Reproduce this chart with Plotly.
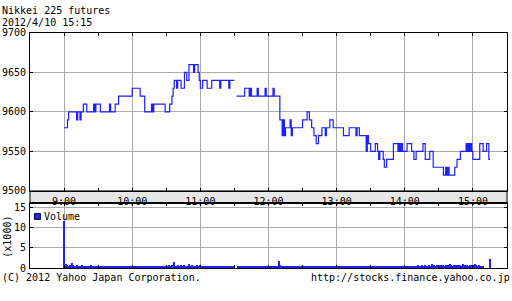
import plotly.graph_objects as go
import pandas as pd

TITLE = "Nikkei 225 futures"
STAMP = "2012/4/10 15:15"
SESSION_START = "2012-04-10 09:00"
PREV_CLOSE = 9550
COPYRIGHT = "(C) 2012 Yahoo Japan Corporation."
URL = "http://stocks.finance.yahoo.co.jp"
VOLUME_LABEL = "Volume"
VOLUME_UNIT = "(x1000)"

hour_labels = ["9:00", "10:00", "11:00", "12:00", "13:00", "14:00", "15:00"]
price_ticks = [9500, 9550, 9600, 9650, 9700]
volume_ticks = [0, 5, 10, 15]

# price change points: minutes after 9:00 and price (None = gap in trading)
price_minutes = [0, 3, 4, 11, 12, 14, 15, 17, 20, 26, 27, 28, 32, 40, 41, 45, 48,
                 60, 67, 71, 77, 78, 79, 89, 93, 95, 96, 97, 99, 100, 103, 106,
                 108, 110, 114, 115, 118, 119, 120, 122, 126, 130, 137, 138, 145,
                 146, 150, 151,
                 152, 159, 163, 164, 165, 170, 171, 177, 178, 184, 185, 190, 192,
                 193, 194, 195, 199, 200, 201, 210, 214, 216, 218, 220, 222, 224,
                 227, 230, 231, 234, 237, 246, 251, 257, 258, 260, 266, 267, 268,
                 270, 274, 276, 277, 278, 281, 282, 284, 290, 294, 295, 296, 297,
                 298, 302, 306, 308, 310, 316, 318, 322, 325, 334, 336, 337, 338,
                 339, 344, 346, 349, 354, 355, 356, 357, 358, 359, 360, 366, 369,
                 372, 374, 375]
price_values = [9580, 9590, 9600, 9590, 9600, 9590, 9600, 9610, 9600, 9610, 9600,
                9610, 9600, 9610, 9600, 9610, 9620,
                9630, 9620, 9600, 9610, 9600, 9610, 9600, 9610, 9620, 9630, 9640,
                9630, 9640, 9630, 9650,
                9640, 9660, 9650, 9660, 9650, 9640, 9630, 9640, 9630, 9640, 9630,
                9640, 9630,
                9640, 9640, None,
                9620, 9630, 9620, 9630, 9620, 9630, 9620, 9630, 9620, 9630, 9620,
                9590, 9570,
                9590, 9570, 9580, 9590, 9570, 9580, 9590, 9600, 9590, 9580, 9570,
                9560, 9570,
                9580, 9570, 9580, 9590, 9580, 9570, 9580, 9570, 9580, 9570, 9550,
                9570, 9560,
                9550, 9560, 9550, 9540, 9550, 9540, 9530, 9540, 9560, 9550, 9560,
                9550, 9560,
                9550, 9560, 9550, 9540, 9550, 9560, 9540, 9550, 9530, 9520, 9530,
                9520, 9530,
                9520, 9530, 9540, 9550, 9560, 9550, 9560, 9550, 9560, 9550, 9540,
                9560, 9550,
                9560, 9540, 9540]

# volume per minute from 9:00 (thousands of contracts)
volume_k = [
    11.5, 0.5, 0.8, 0.6, 0.4, 0.7, 0.5, 1.2, 0.6, 0.5,
    0.4, 0.6, 0.5, 0.3, 0.5, 0.4, 0.6, 0.3, 0.5, 0.4,
    0.3, 0.5, 0.4, 0.3, 0.6, 0.4, 0.3, 0.5, 0.4, 0.3,
    0.4, 0.3, 0.5, 0.3, 0.2, 0.4, 0.3, 0.5, 0.3, 0.4,
    0.3, 0.4, 0.2, 0.3, 0.5, 0.3, 0.4, 0.3, 0.2, 0.4,
    0.3, 0.2, 0.4, 0.3, 0.3, 0.5, 0.2, 0.3, 0.4, 0.3,
    0.4, 0.3, 0.2, 0.4, 0.3, 0.5, 0.3, 0.2, 0.3, 0.4,
    0.5, 0.3, 0.4, 0.3, 0.2, 0.3, 0.4, 0.3, 0.5, 0.3,
    0.3, 0.4, 0.2, 0.3, 0.4, 0.3, 0.5, 0.4, 0.3, 0.4,
    0.5, 0.4, 0.6, 0.4, 0.5, 0.6, 0.5, 1.4, 0.5, 0.4,
    0.6, 0.5, 0.4, 0.6, 0.5, 0.4, 0.6, 0.5, 0.5, 0.4,
    0.9, 0.5, 0.4, 0.6, 0.5, 0.4, 0.5, 0.6, 0.5, 0.4,
    0.6, 0.5, 0.3, 0.2, 0.3, 0.2, 0.4, 0.3, 0.2, 0.3,
    0.2, 0.3, 0.2, 0.4, 0.3, 0.2, 0.3, 0.2, 0.3, 0.2,
    0.3, 0.2, 0.3, 0.2, 0.4, 0.2, 0.3, 0.2, 0.3, 0.2,
    0.2, None, None, 0.3, 0.2, 0.3, 0.2, 0.3, 0.2, 0.2,
    0.3, 0.2, 0.2, 0.3, 0.2, 0.2, 0.3, 0.2, 0.2, 0.3,
    0.2, 0.3, 0.2, 0.2, 0.3, 0.2, 0.2, 0.3, 0.2, 0.2,
    0.3, 0.2, 0.3, 0.2, 0.3, 0.2, 0.4, 0.3, 0.2, 1.6,
    0.6, 0.5, 0.4, 0.5, 0.3, 0.4, 0.5, 0.3, 0.4, 0.3,
    0.5, 0.3, 0.4, 0.3, 0.5, 0.4, 0.3, 0.4, 0.3, 0.4,
    0.3, 0.4, 0.3, 0.2, 0.4, 0.3, 0.4, 0.3, 0.2, 0.3,
    0.4, 0.3, 0.2, 0.3, 0.4, 0.3, 0.2, 0.3, 0.4, 0.3,
    0.3, 0.4, 0.3, 0.2, 0.3, 0.4, 0.3, 0.3, 0.2, 0.4,
    0.3, 0.2, 0.3, 0.4, 0.3, 0.2, 0.3, 0.4, 0.3, 0.2,
    0.4, 0.3, 0.3, 0.2, 0.4, 0.3, 0.5, 0.3, 0.4, 0.3,
    0.3, 0.4, 0.3, 0.5, 0.3, 0.4, 0.5, 0.4, 0.3, 0.4,
    0.4, 0.3, 0.5, 0.4, 0.3, 0.4, 0.3, 0.5, 0.4, 0.3,
    0.5, 0.4, 0.3, 0.4, 0.5, 0.3, 0.4, 0.5, 0.3, 0.4,
    0.4, 0.5, 0.3, 0.4, 0.5, 0.4, 0.3, 0.5, 0.4, 0.3,
    0.4, 0.3, 0.5, 0.4, 0.3, 0.4, 0.5, 0.3, 0.4, 0.5,
    0.5, 0.4, 0.6, 0.4, 0.5, 0.7, 0.4, 0.5, 0.6, 0.4,
    0.5, 0.6, 0.4, 0.5, 0.9, 0.5, 0.6, 0.5, 0.7, 0.5,
    0.6, 0.5, 0.7, 0.5, 0.6, 0.5, 0.6, 0.7, 0.5, 0.6,
    0.9, 0.6, 0.5, 0.7, 0.6, 0.5, 0.6, 0.5, 0.7, 0.6,
    0.5, 0.8, 0.6, 0.5, 0.7, 0.6, 0.5, 0.6, 0.7, 0.5,
    0.6, 0.5, 0.9, 0.6, 0.5, 0.7, 0.4, 0.5, 0.3, 0.4,
    None, None, None, None, None, 2.1,
]

W, H = 512, 301
FONT = "DejaVu Sans Mono"
BLUE = "#1f1fff"
GRID = "#aaaaaa"

def py(y):  # pixel row -> paper fraction
    return 1 - y / H

def pxf(x):  # pixel column -> paper fraction
    return x / W

base = pd.Timestamp(SESSION_START)
px_times = [base + pd.Timedelta(minutes=m) for m in price_minutes]
vol_times = [base + pd.Timedelta(minutes=i) for i in range(len(volume_k))]
hour_vals = [base + pd.Timedelta(hours=i) for i in range(len(hour_labels))]
x_range = [base - pd.Timedelta(minutes=30), base + pd.Timedelta(minutes=390)]

fig = go.Figure()
fig.add_trace(go.Scatter(x=px_times, y=price_values, mode="lines",
                         line=dict(color=BLUE, width=1.2, shape="hv"),
                         connectgaps=False, xaxis="x", yaxis="y",
                         showlegend=False, hoverinfo="skip"))
fig.add_trace(go.Bar(x=vol_times, y=volume_k, marker=dict(color=BLUE, line_width=0),
                     width=50000, xaxis="x2", yaxis="y2", showlegend=False,
                     hoverinfo="skip"))

xdom = [pxf(30), pxf(507)]
common_x = dict(type="date", range=x_range, tickvals=hour_vals, ticktext=hour_labels,
                ticks="inside", ticklen=3, tickcolor="black", showline=True,
                linecolor="black", linewidth=1, mirror="ticks", showgrid=True,
                gridcolor=GRID, gridwidth=1, zeroline=False, domain=xdom,
                minor=dict(dtick=30 * 60 * 1000, tick0=base, ticks="inside",
                           ticklen=3, tickcolor="black", showgrid=False),
                tickfont=dict(family=FONT, size=10, color="black"))

fig.update_layout(
    width=W, height=H, margin=dict(l=0, r=0, t=0, b=0),
    paper_bgcolor="white", plot_bgcolor="white", bargap=0,
    xaxis=dict(**common_x, anchor="y", ticklabelstandoff=1),
    xaxis2=dict(**common_x, anchor="y2", matches="x", showticklabels=False),
    yaxis=dict(domain=[py(193), py(29)], range=[9500, 9700], tickvals=price_ticks,
               ticks="inside", ticklen=3, tickcolor="black", showline=True,
               linecolor="black", linewidth=1, mirror="ticks", showgrid=True,
               gridcolor=GRID, zeroline=False, anchor="x",
               tickfont=dict(family=FONT, size=10, color="black"),
               ticklabelstandoff=1),
    yaxis2=dict(domain=[py(273), py(206)], range=[0, 16], tickvals=volume_ticks,
                ticks="inside", ticklen=3, tickcolor="black", showline=True,
                linecolor="black", linewidth=1, mirror="ticks", showgrid=True,
                gridcolor=GRID, zeroline=False, anchor="x2",
                tickfont=dict(family=FONT, size=10, color="black"),
                ticklabelstandoff=1),
)

# time-label band between the panels
fig.add_shape(type="rect", xref="paper", yref="paper", x0=xdom[0], x1=xdom[1],
              y0=py(206), y1=py(193), fillcolor="#e6e6e6",
              line=dict(color="black", width=1), layer="below")
# previous close reference line
fig.add_shape(type="line", xref="paper", yref="y", x0=xdom[0], x1=xdom[1],
              y0=PREV_CLOSE, y1=PREV_CLOSE, line=dict(color="white", width=1),
              layer="between")
fig.add_shape(type="line", xref="paper", yref="y", x0=xdom[0], x1=xdom[1],
              y0=PREV_CLOSE, y1=PREV_CLOSE,
              line=dict(color="#ff3333", width=1, dash="4px,2px"), layer="between")
# legend swatch
fig.add_shape(type="rect", xref="paper", yref="paper", x0=pxf(34.5), x1=pxf(40.5),
              y0=py(222.5), y1=py(216.5), fillcolor="#2222ee",
              line=dict(color="#000044", width=1))

ann = dict(showarrow=False, font=dict(family=FONT, size=10, color="black"))
fig.add_annotation(text=TITLE, xref="paper", yref="paper", x=0, y=py(6),
                   xanchor="left", yanchor="middle", **ann)
fig.add_annotation(text=STAMP, xref="paper", yref="paper", x=0, y=py(18),
                   xanchor="left", yanchor="middle", **ann)
fig.add_annotation(text=VOLUME_LABEL, xref="paper", yref="paper", x=pxf(42),
                   y=py(220), xanchor="left", yanchor="middle", **ann)
fig.add_annotation(text=VOLUME_UNIT, xref="paper", yref="paper", x=pxf(7.5),
                   y=py(241), xanchor="center", yanchor="middle", textangle=-90, **ann)
fig.add_annotation(text=COPYRIGHT, xref="paper", yref="paper", x=0, y=py(283),
                   xanchor="left", yanchor="middle", **ann)
fig.add_annotation(text=URL, xref="paper", yref="paper", x=1, y=py(283),
                   xanchor="right", yanchor="middle", **ann)

fig.write_html("out.html")
